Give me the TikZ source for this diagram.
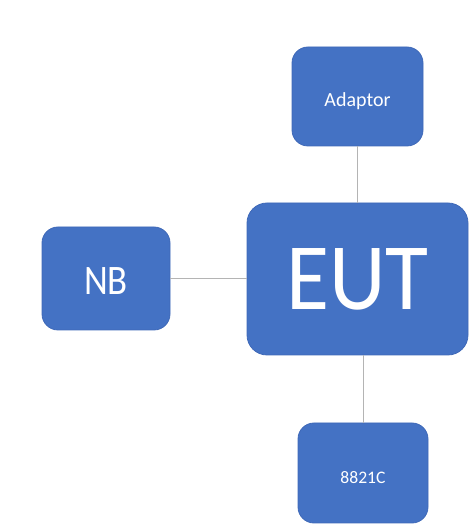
\documentclass[tikz,border=0pt]{standalone}
\usepackage{fontspec}
\setmainfont{Carlito}
\definecolor{boxblue}{HTML}{4472C4}
\definecolor{boxedge}{HTML}{3F69B8}
\definecolor{linkgray}{HTML}{B4B4B4}
\begin{document}
\begin{tikzpicture}[x=1pt,y=1pt,
  blk/.style={draw=boxedge, line width=0.8pt, fill=boxblue, rounded corners=16pt,
    text=white, inner sep=0pt, anchor=center, text depth=0pt},
  link/.style={draw=linkgray, line width=0.8pt}]
\useasboundingbox (0,0) rectangle (473,526);
\node[blk, minimum width=131pt, minimum height=99pt, text height=19.6pt, font=\fontsize{20}{24}\selectfont] (adaptor) at (357.5,429.5) {Adaptor};
\node[blk, minimum width=128pt, minimum height=103pt, text height=31.5pt, font=\fontsize{40}{46}\selectfont] (nb) at (106,247.5) {\scalebox{0.92}[1.05]{NB}};
\node[blk, minimum width=221pt, minimum height=152pt, rounded corners=20pt, text height=62pt, font=\fontsize{88}{100}\selectfont] (eut) at (357.5,247) {\scalebox{1}[1.08]{EUT}};
\node[blk, minimum width=130pt, minimum height=100pt, text height=22pt, font=\fontsize{17.6}{21}\selectfont] (c8821) at (363,53) {8821C};
\draw[link] (adaptor.south) -- (eut.north);
\draw[link] (nb.east) -- (nb.east -| eut.west);
\draw[link] (c8821.north) -- (c8821.north |- eut.south);
\end{tikzpicture}
\end{document}
